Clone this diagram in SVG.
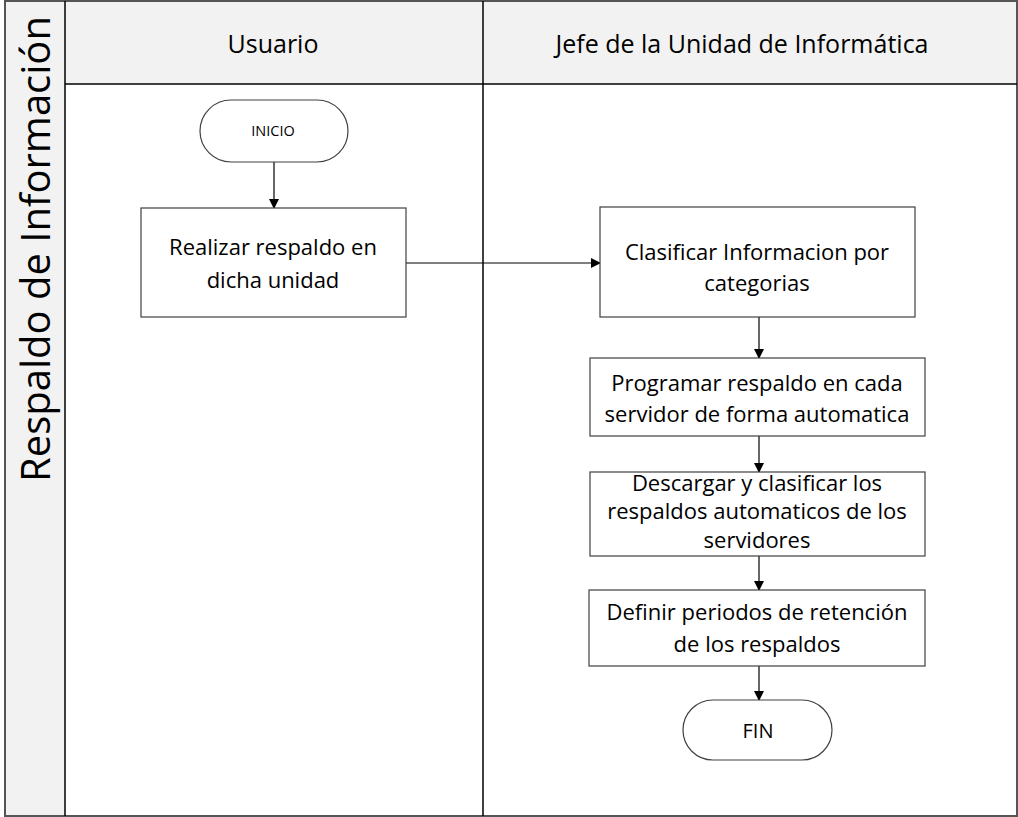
<svg xmlns="http://www.w3.org/2000/svg" width="1018" height="817" viewBox="0 0 1018 817">
<defs>
<marker id="arr" markerWidth="10" markerHeight="10" refX="9" refY="5" orient="auto" markerUnits="userSpaceOnUse">
<path d="M0,0 L10,5 L0,10 Z" fill="#000"/>
</marker>
<style>
.t{font-family:"Open Sans","Liberation Sans",sans-serif;fill:#000;text-anchor:middle}
.b{font-size:22px}
.box{fill:#fff;stroke:#404040;stroke-width:1.2}
.lane{stroke:#000;stroke-width:1.5;fill:none}
.hdr{fill:#f2f2f2}
.conn{stroke:#000;stroke-width:1.2;fill:none;marker-end:url(#arr)}
</style>
</defs>
<rect x="0" y="0" width="1018" height="817" fill="#fff"/>
<g id="pool">
<rect x="65" y="1" width="952" height="83" class="hdr"/>
<rect x="5" y="1" width="60" height="815" class="hdr"/>
<rect x="5" y="1" width="1012" height="815" fill="none" stroke="#555" stroke-width="2"/>
<line x1="65" y1="1" x2="65" y2="816" class="lane"/>
<line x1="65" y1="84" x2="1017" y2="84" class="lane"/>
<line x1="483" y1="1" x2="483" y2="816" class="lane"/>
<text class="t" x="0" y="0" font-size="40" transform="translate(50,249) rotate(-90)">Respaldo de Información</text>
</g>
<g id="lane-usuario"><text class="t" x="273" y="53" font-size="25">Usuario</text></g>
<g id="lane-jefe"><text class="t" x="742" y="53" font-size="25">Jefe de la Unidad de Informática</text></g>
<g id="connectors">
<line x1="274" y1="162" x2="274" y2="208" class="conn"/>
<line x1="406" y1="263" x2="600" y2="263" class="conn"/>
<line x1="759" y1="317" x2="759" y2="358" class="conn"/>
<line x1="759" y1="436" x2="759" y2="472" class="conn"/>
<line x1="759" y1="556" x2="759" y2="590" class="conn"/>
<line x1="759" y1="666" x2="759" y2="700" class="conn"/>
</g>
<g id="inicio">
<rect x="200" y="100" width="148" height="62" rx="31" class="box"/>
<text class="t" x="273" y="136" font-size="14.5">INICIO</text>
</g>
<g id="realizar">
<rect x="141" y="208" width="265" height="109" class="box"/>
<text class="t b" x="273" y="255">Realizar respaldo en</text>
<text class="t b" x="273" y="288">dicha unidad</text>
</g>
<g id="clasificar">
<rect x="600" y="207" width="315" height="110" class="box"/>
<text class="t b" x="757" y="260">Clasificar Informacion por</text>
<text class="t b" x="757" y="291">categorias</text>
</g>
<g id="programar">
<rect x="590" y="358" width="335" height="78" class="box"/>
<text class="t b" x="757" y="391">Programar respaldo en cada</text>
<text class="t b" x="757" y="422">servidor de forma automatica</text>
</g>
<g id="descargar">
<rect x="590" y="472" width="335" height="84" class="box"/>
<text class="t b" x="757" y="491">Descargar y clasificar los</text>
<text class="t b" x="757" y="519">respaldos automaticos de los</text>
<text class="t b" x="757" y="548">servidores</text>
</g>
<g id="definir">
<rect x="589" y="590" width="336" height="76" class="box"/>
<text class="t b" x="757" y="620">Definir periodos de retención</text>
<text class="t b" x="757" y="652">de los respaldos</text>
</g>
<g id="fin">
<rect x="683" y="700" width="149" height="60" rx="30" class="box"/>
<text class="t" x="758" y="738" font-size="20">FIN</text>
</g>
</svg>
